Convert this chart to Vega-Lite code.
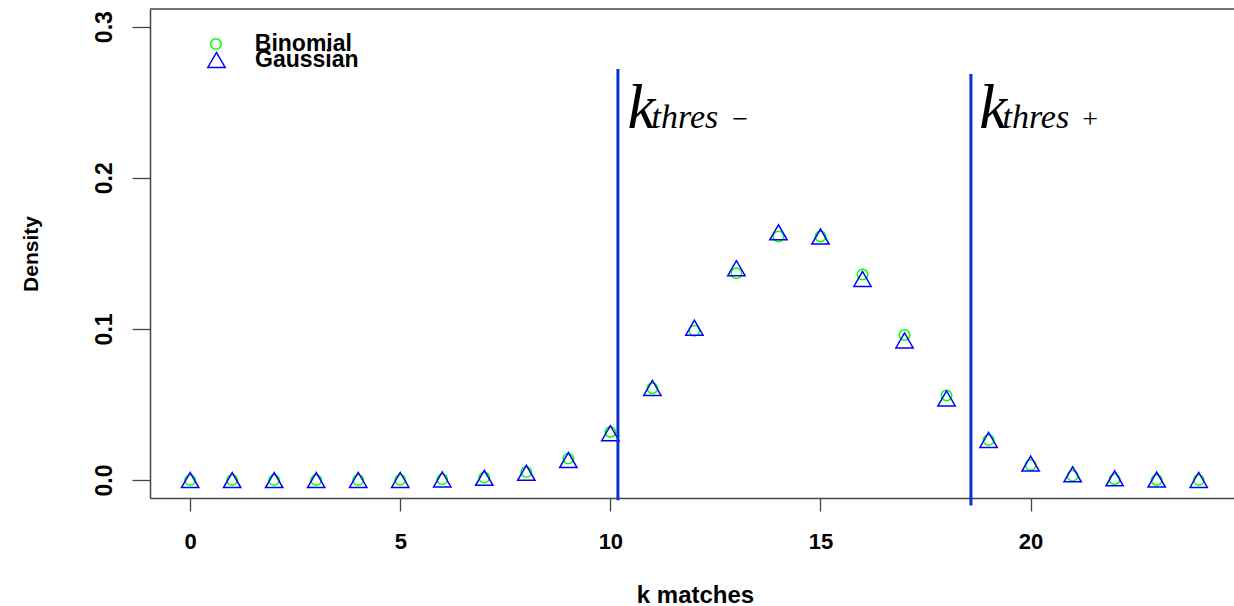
{
  "$schema": "https://vega.github.io/schema/vega-lite/v6.json",
  "width": 1084,
  "height": 489,
  "autosize": {"type": "none"},
  "padding": {"left": 150, "top": 9, "right": 0, "bottom": 108},
  "background": "white",
  "config": {"view": {"stroke": null}, "font": "Liberation Sans"},
  "datasets": {
    "pts": [
      {"k": 0, "dist": "Binomial", "density": 0.0},
      {"k": 1, "dist": "Binomial", "density": 0.0},
      {"k": 2, "dist": "Binomial", "density": 0.0},
      {"k": 3, "dist": "Binomial", "density": 0.000002},
      {"k": 4, "dist": "Binomial", "density": 0.000015},
      {"k": 5, "dist": "Binomial", "density": 0.000091},
      {"k": 6, "dist": "Binomial", "density": 0.000432},
      {"k": 7, "dist": "Binomial", "density": 0.001666},
      {"k": 8, "dist": "Binomial", "density": 0.00531},
      {"k": 9, "dist": "Binomial", "density": 0.01416},
      {"k": 10, "dist": "Binomial", "density": 0.03185},
      {"k": 11, "dist": "Binomial", "density": 0.0608},
      {"k": 12, "dist": "Binomial", "density": 0.0988},
      {"k": 13, "dist": "Binomial", "density": 0.1368},
      {"k": 14, "dist": "Binomial", "density": 0.1612},
      {"k": 15, "dist": "Binomial", "density": 0.1612},
      {"k": 16, "dist": "Binomial", "density": 0.136},
      {"k": 17, "dist": "Binomial", "density": 0.096},
      {"k": 18, "dist": "Binomial", "density": 0.056},
      {"k": 19, "dist": "Binomial", "density": 0.0265},
      {"k": 20, "dist": "Binomial", "density": 0.00995},
      {"k": 21, "dist": "Binomial", "density": 0.00284},
      {"k": 22, "dist": "Binomial", "density": 0.00058},
      {"k": 23, "dist": "Binomial", "density": 0.000076},
      {"k": 24, "dist": "Binomial", "density": 0.0000047},
      {"k": 0, "dist": "Gaussian", "density": 0.0},
      {"k": 1, "dist": "Gaussian", "density": 0.0},
      {"k": 2, "dist": "Gaussian", "density": 0.0},
      {"k": 3, "dist": "Gaussian", "density": 0.000001},
      {"k": 4, "dist": "Gaussian", "density": 0.000014},
      {"k": 5, "dist": "Gaussian", "density": 0.000078},
      {"k": 6, "dist": "Gaussian", "density": 0.00036},
      {"k": 7, "dist": "Gaussian", "density": 0.00143},
      {"k": 8, "dist": "Gaussian", "density": 0.00475},
      {"k": 9, "dist": "Gaussian", "density": 0.01323},
      {"k": 10, "dist": "Gaussian", "density": 0.03095},
      {"k": 11, "dist": "Gaussian", "density": 0.0609},
      {"k": 12, "dist": "Gaussian", "density": 0.1008},
      {"k": 13, "dist": "Gaussian", "density": 0.1402},
      {"k": 14, "dist": "Gaussian", "density": 0.1639},
      {"k": 15, "dist": "Gaussian", "density": 0.1611},
      {"k": 16, "dist": "Gaussian", "density": 0.1331},
      {"k": 17, "dist": "Gaussian", "density": 0.0924},
      {"k": 18, "dist": "Gaussian", "density": 0.054},
      {"k": 19, "dist": "Gaussian", "density": 0.0265},
      {"k": 20, "dist": "Gaussian", "density": 0.0109},
      {"k": 21, "dist": "Gaussian", "density": 0.0038},
      {"k": 22, "dist": "Gaussian", "density": 0.0011},
      {"k": 23, "dist": "Gaussian", "density": 0.00027},
      {"k": 24, "dist": "Gaussian", "density": 0.000056}
    ],
    "thresholds": [
      {"x": 10.18, "top": 0.272, "bottom": -0.0134, "k": 10.41, "sub": 10.98, "signx": 12.9, "sign": "−"},
      {"x": 18.58, "top": 0.2687, "bottom": -0.0168, "k": 18.78, "sub": 19.33, "signx": 21.23, "sign": "+"}
    ]
  },
  "resolve": {"scale": {"color": "independent"}, "legend": {"color": "independent"}},
  "layer": [
    {
      "data": {"name": "pts"},
      "transform": [{"filter": "datum.dist === 'Binomial'"}],
      "mark": {"type": "point", "shape": "circle", "size": 110, "filled": false, "strokeWidth": 1.5, "opacity": 1},
      "encoding": {
        "x": {
          "field": "k", "type": "quantitative",
          "scale": {"domain": [-0.955, 24.84], "nice": false, "zero": false},
          "axis": {
            "values": [0, 5, 10, 15, 20], "format": "d", "grid": false,
            "domainColor": "#444444", "domainWidth": 1.5,
            "tickColor": "#444444", "tickWidth": 1.3, "tickSize": 13,
            "labelFont": "Liberation Sans", "labelFontSize": 22, "labelFontWeight": "bold", "labelColor": "#000000", "labelPadding": 20, "labelOverlap": false, "labelFlush": false,
            "title": "k matches", "titleFont": "Liberation Sans", "titleFontSize": 24, "titleFontWeight": "bold", "titleColor": "#000000",
            "titleX": 545, "titleY": 104, "titleBaseline": "alphabetic", "titleAlign": "center"
          }
        },
        "y": {
          "field": "density", "type": "quantitative",
          "scale": {"domain": [-0.0119, 0.3117], "nice": false, "zero": false},
          "axis": {
            "values": [0, 0.1, 0.2, 0.3], "format": ".1f", "grid": false,
            "domainColor": "#444444", "domainWidth": 1.5,
            "tickColor": "#444444", "tickWidth": 1.3, "tickSize": 18,
            "labelFont": "Liberation Sans", "labelFontSize": 23, "labelFontWeight": "bold", "labelColor": "#000000", "labelPadding": 16,
            "labelAngle": 270, "labelAlign": "center", "labelBaseline": "bottom", "labelOverlap": false, "labelFlush": false,
            "title": "Density", "titleFont": "Liberation Sans", "titleFontSize": 21, "titleFontWeight": "bold", "titleColor": "#000000",
            "titleAngle": 270, "titleX": -113, "titleY": 244.5, "titleBaseline": "alphabetic", "titleAlign": "center"
          }
        },
        "color": {
          "field": "dist", "type": "nominal",
          "scale": {"domain": ["Binomial"], "range": ["#00ff00"]},
          "legend": {
            "orient": "none", "legendX": 54.4, "legendY": 23.5, "title": null, "padding": 0,
            "labelFont": "Liberation Sans", "labelFontSize": 23, "labelFontWeight": "bold", "labelColor": "#000000",
            "labelOffset": 27.4, "symbolType": "circle", "symbolSize": 110, "symbolStrokeWidth": 1.5,
            "encode": {"labels": {"update": {"dy": {"value": 3}}}}
          }
        }
      }
    },
    {
      "data": {"name": "pts"},
      "transform": [{"filter": "datum.dist === 'Gaussian'"}],
      "mark": {"type": "point", "shape": "triangle-up", "size": 300, "filled": false, "strokeWidth": 1.5, "opacity": 1},
      "encoding": {
        "x": {"field": "k", "type": "quantitative"},
        "y": {"field": "density", "type": "quantitative"},
        "color": {
          "field": "dist", "type": "nominal",
          "scale": {"domain": ["Gaussian"], "range": ["#0000ff"]},
          "legend": {
            "orient": "none", "legendX": 55, "legendY": 39.5, "title": null, "padding": 0,
            "labelFont": "Liberation Sans", "labelFontSize": 23, "labelFontWeight": "bold", "labelColor": "#000000",
            "labelOffset": 27, "symbolType": "triangle-up", "symbolSize": 300, "symbolStrokeWidth": 1.5,
            "encode": {"labels": {"update": {"dy": {"value": 3}}}}
          }
        }
      }
    },
    {
      "data": {"values": [{}]},
      "mark": {"type": "rule", "color": "#444444", "strokeWidth": 1.5},
      "encoding": {
        "y": {"datum": 0.3117, "type": "quantitative"}
      }
    },
    {
      "data": {"name": "thresholds"},
      "mark": {"type": "rule", "color": "#0a32d2", "strokeWidth": 3},
      "encoding": {
        "x": {"field": "x", "type": "quantitative"},
        "y": {"field": "top", "type": "quantitative"},
        "y2": {"field": "bottom"}
      }
    },
    {
      "data": {"name": "thresholds"},
      "mark": {"type": "text", "font": "Liberation Serif", "fontStyle": "italic", "fontSize": 63, "align": "left", "baseline": "alphabetic", "color": "#000000"},
      "encoding": {
        "x": {"field": "k", "type": "quantitative"},
        "y": {"datum": 0.2329, "type": "quantitative"},
        "text": {"value": "k"}
      }
    },
    {
      "data": {"name": "thresholds"},
      "mark": {"type": "text", "font": "Liberation Serif", "fontStyle": "italic", "fontSize": 34, "align": "left", "baseline": "alphabetic", "color": "#000000"},
      "encoding": {
        "x": {"field": "sub", "type": "quantitative"},
        "y": {"datum": 0.2329, "type": "quantitative"},
        "text": {"value": "thres"}
      }
    },
    {
      "data": {"name": "thresholds"},
      "mark": {"type": "text", "font": "Liberation Serif", "fontSize": 28, "align": "left", "baseline": "middle", "color": "#000000"},
      "encoding": {
        "x": {"field": "signx", "type": "quantitative"},
        "y": {"datum": 0.2382, "type": "quantitative"},
        "text": {"field": "sign"}
      }
    }
  ]
}
